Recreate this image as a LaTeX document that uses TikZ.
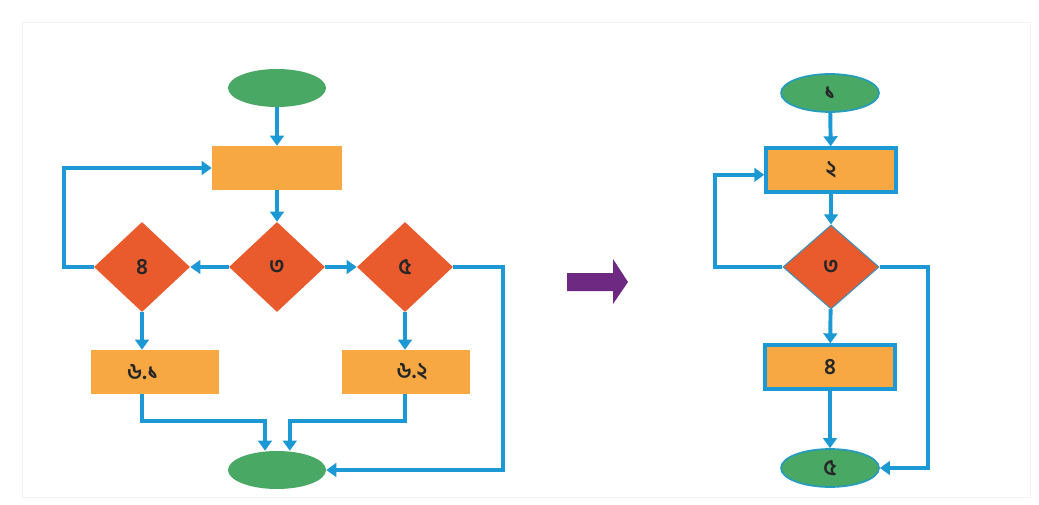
\documentclass[tikz,border=0pt]{standalone}
\usepackage{fontspec}
\usepackage{xcolor}
\usepackage{tikz}
\newfontfamily\bnfont[Script=Bengali]{Hind Siliguri}
\usetikzlibrary{shapes.geometric,arrows.meta}

\definecolor{termgreen}{RGB}{72,168,100}
\definecolor{procorange}{RGB}{247,168,67}
\definecolor{decidered}{RGB}{233,90,45}
\definecolor{flowblue}{RGB}{28,153,213}
\definecolor{arrowpurple}{RGB}{110,42,130}

\tikzset{
    term/.style={ellipse, fill=termgreen, minimum width=2.45cm, minimum height=0.95cm, inner sep=0pt},
    proc/.style={rectangle, fill=procorange, minimum width=3.25cm, minimum height=1.1cm, inner sep=0pt},
    decide/.style={diamond, fill=decidered, minimum width=2.4cm, minimum height=2.25cm, inner sep=0pt},
    flow/.style={draw=flowblue, line width=2.8pt, -{Triangle[length=0.25cm,width=0.34cm]}},
    every node/.style={font=\bnfont\bfseries\fontsize{16}{19}\selectfont, text=black!85}
}

\begin{document}
\begin{tikzpicture}[x=0.025cm, y=-0.025cm]
        \useasboundingbox (0,0) rectangle (1039,505);
        % faint frame
        \draw[black!5, line width=0.6pt] (22,22) rectangle (1030,497);

        % left chart: the shapes
        \node[term] (s1) at (277,88) {};
        \node[proc] (r1) at (277,168) {};
        \node[decide] (d3) at (277,267) {৩};
        \node[decide] (d4) at (142,267) {৪};
        \node[decide] (d5) at (405,267) {৫};
        \node[proc, minimum width=3.2cm] (b61) at (155,372) {\hspace*{-0.6cm}৬.১};
        \node[proc, minimum width=3.2cm] (b62) at (406,372) {\hspace*{0.3cm}৬.২};
        \node[term] (e1) at (277,470) {};

        % left chart: the flow lines
        \draw[flow] (s1) -- (r1);
        \draw[flow] (r1) -- (d3);
        \draw[flow] (d3) -- (d4);
        \draw[flow] (d3) -- (d5);
        \draw[flow] (d4) -- (d4 |- b61.north);
        \draw[flow] (d5) -- (d5 |- b62.north);
        \draw[flow] (d4.west) -- ++(-30,0) |- (r1.west);
        \draw[flow] (d5.east) -- ++(50,0) |- (e1.east);
        \draw[flow] (b61.south -| d4) -- ++(0,27) -| ([xshift=-0.3cm]e1.north);
        \draw[flow] (b62.south -| d5) -- ++(0,27) -| ([xshift=0.32cm]e1.north);

        % the big arrow between the charts
        \fill[arrowpurple] (567,273) -- (613,273) -- (613,259) -- (628,282)
            -- (613,304) -- (613,291) -- (567,291) -- cycle;

        % right chart: the shapes
        \node[term, draw=flowblue!80!termgreen, line width=1.2pt] (t1) at (830,93) {১};
        \node[proc, draw=flowblue, line width=2.4pt] (p2) at (831,170) {২};
        \node[decide, draw=flowblue!60!gray, line width=0.8pt, minimum height=2.1cm] (q3) at (831,267) {৩};
        \node[proc, draw=flowblue, line width=2.4pt] (p4) at (830,367) {৪};
        \node[term, draw=flowblue!80!termgreen, line width=1.2pt] (t5) at (830,468) {৫};

        % right chart: the flow lines
        \draw[flow] (t1) -- (p2);
        \draw[flow] (p2) -- (q3);
        \draw[flow] (q3) -- (p4);
        \draw[flow] (p4) -- (t5);
        \draw[flow] (q3.west) -- ++(-67,0) |- ([yshift=-0.12cm]p2.west);
        \draw[flow] (q3.east) -- ++(48,0) |- (t5.east);
    \end{tikzpicture}
\end{document}
